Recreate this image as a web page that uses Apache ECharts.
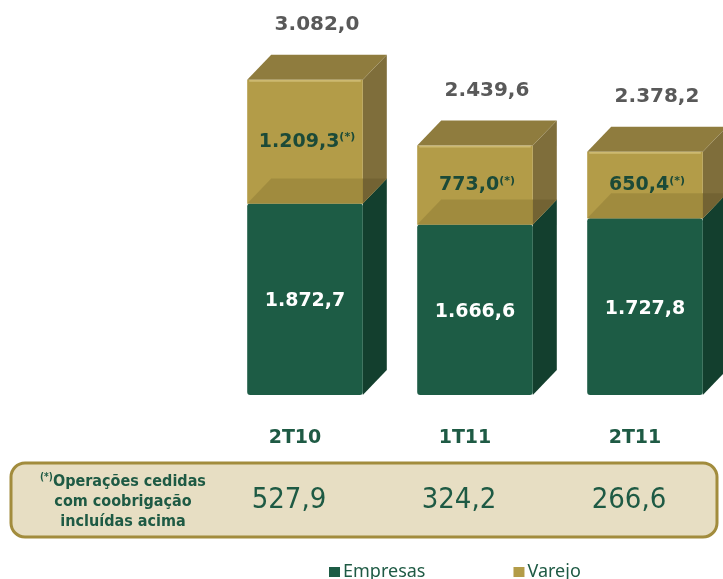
<!DOCTYPE html>
<html>
<head>
    <meta charset="UTF-8">
    <title>Carteira</title>
    <script src="https://cdn.jsdelivr.net/npm/echarts/dist/echarts.min.js"></script>
    <style>
        body { margin: 0; background: #fff; }
        #chart { width: 723px; height: 579px; }
    </style>
</head>
<body>
    <div id="chart"></div>
    <script>
        const categorias = ['2T10', '1T11', '2T11'];
        const empresas = [1872.7, 1666.6, 1727.8];
        const varejo = [1209.3, 773.0, 650.4];
        const totais = [3082.0, 2439.6, 2378.2];
        const coobrigacao = [527.9, 324.2, 266.6];

        const verde = '#1d5c45', verdeLado = '#133f2e';
        const oliva = '#b39c48', olivaLado = '#7f6e3b', olivaTopo = '#8f7c3e';
        const textoVerde = '#1e5a44';
        const DX = 24, DY = 25;

        function fmt(v) {
            const parts = v.toFixed(1).split('.');
            return parts[0].replace(/\B(?=(\d{3})+(?!\d))/g, '.') + ',' + parts[1];
        }

        // caixa 3D: frente, lado e topo
        function caixa(params, api, cores) {
            const idx = api.value(0);
            const pb = api.coord([idx, api.value(1)]);
            const pt = api.coord([idx, api.value(2)]);
            const w = api.size([1, 0])[0] * 0.68;
            const l = pb[0] - w / 2, r = l + w;
            const yb = pb[1], yt = pt[1];
            return {
                l, r, yb, yt, w,
                shapes: [
                    { type: 'polygon', shape: { points: [[r, yt], [r + DX, yt - DY], [r + DX, yb - DY], [r, yb]] }, style: { fill: cores.lado } },
                    { type: 'rect', shape: { x: l, y: yt, width: w, height: yb - yt, r: cores.r || 0 }, style: { fill: cores.frente } },
                    { type: 'polygon', shape: { points: [[l, yt], [l + DX, yt - DY], [r + DX, yt - DY], [r, yt]] }, style: { fill: cores.topo } }
                ]
            };
        }

        const chart = echarts.init(document.getElementById('chart'));
        chart.setOption({
            animation: false,
            grid: { left: 220, width: 510, top: 37, bottom: 184, outerBoundsMode: 'none' },
            xAxis: {
                type: 'category',
                data: categorias,
                axisLine: { show: false },
                axisTick: { show: false },
                axisLabel: {
                    margin: 34,
                    fontSize: 19,
                    fontWeight: 'bold',
                    fontFamily: 'DejaVu Sans',
                    color: textoVerde,
                    padding: [0, 20, 0, 0]
                }
            },
            yAxis: { type: 'value', min: 0, max: 3500, show: false },
            legend: {
                data: ['Empresas', 'Varejo'],
                left: 329,
                top: 563,
                padding: 0,
                itemWidth: 11,
                itemHeight: 10,
                itemGap: 88,
                icon: 'rect',
                textStyle: { fontSize: 18, color: textoVerde, fontFamily: 'Noto Sans', padding: [0, 0, 0, -2] }
            },
            graphic: [
                {
                    type: 'rect', z: 0,
                    shape: { x: 11, y: 463, width: 706, height: 74, r: 14 },
                    style: { fill: '#e7dec3', stroke: '#a28c3d', lineWidth: 3 }
                },
                {
                    type: 'text', z: 1, left: 40, top: 472,
                    style: {
                        text: '{s|(*)}Operações cedidas\ncom coobrigação\nincluídas acima',
                        textAlign: 'center',
                        fill: textoVerde,
                        font: 'bold 16px "DejaVu Sans Condensed"',
                        lineHeight: 20,
                        rich: {
                            s: { fontSize: 10, fontWeight: 'bold', verticalAlign: 'top', fill: textoVerde, fontFamily: 'DejaVu Sans Condensed', lineHeight: 14 }
                        }
                    }
                }
            ],
            series: [
                {
                    name: 'Empresas',
                    type: 'custom',
                    itemStyle: { color: verde },
                    encode: { x: 0, y: [1, 2] },
                    data: categorias.map((c, i) => [i, 0, empresas[i]]),
                    renderItem: function (params, api) {
                        const b = caixa(params, api, { frente: verde, lado: verdeLado, topo: '#a08b3a', r: 3 });
                        const idx = api.value(0);
                        b.shapes.push({
                            type: 'text',
                            style: {
                                text: fmt(empresas[idx]),
                                x: (b.l + b.r) / 2, y: (b.yt + b.yb) / 2 + 2,
                                textAlign: 'center', textVerticalAlign: 'middle',
                                font: 'bold 19px "DejaVu Sans"', fill: '#ffffff'
                            }
                        });
                        return { type: 'group', children: b.shapes };
                    }
                },
                {
                    name: 'Varejo',
                    type: 'custom',
                    itemStyle: { color: oliva },
                    encode: { x: 0, y: [1, 2] },
                    data: categorias.map((c, i) => [i, empresas[i], empresas[i] + varejo[i]]),
                    renderItem: function (params, api) {
                        const b = caixa(params, api, { frente: oliva, lado: olivaLado, topo: olivaTopo });
                        const idx = api.value(0);
                        // topo da caixa verde visto através do varejo
                        b.shapes.push({
                            type: 'polygon',
                            shape: { points: [[b.l, b.yb], [b.l + DX, b.yb - DY], [b.r + DX, b.yb - DY], [b.r, b.yb]] },
                            style: { fill: 'rgba(40,30,0,0.13)' }
                        });
                        b.shapes.push({
                            type: 'rect',
                            shape: { x: b.l + 2, y: b.yt, width: b.w - 4, height: 2 },
                            style: { fill: 'rgba(255,240,190,0.35)' }
                        });
                        b.shapes.push({
                            type: 'text',
                            style: {
                                text: '{v|' + fmt(varejo[idx]) + '}{s|(*)}',
                                x: (b.l + b.r) / 2 + 2, y: (b.yt + b.yb) / 2,
                                textAlign: 'center', textVerticalAlign: 'middle',
                                rich: {
                                    v: { fontSize: 19, fontWeight: 'bold', fontFamily: 'DejaVu Sans', fill: '#1b4a38' },
                                    s: { fontSize: 11, fontWeight: 'bold', fontFamily: 'DejaVu Sans', fill: '#1b4a38', verticalAlign: 'top', lineHeight: 14 }
                                }
                            }
                        });
                        b.shapes.push({
                            type: 'text',
                            style: {
                                text: fmt(totais[idx]),
                                x: (b.l + b.r) / 2 + DX / 2, y: b.yt - DY - 30,
                                textAlign: 'center', textVerticalAlign: 'middle',
                                font: 'bold 20px "DejaVu Sans"', fill: '#595959'
                            }
                        });
                        return { type: 'group', children: b.shapes };
                    }
                },
                {
                    name: 'coobrigacao',
                    type: 'custom',
                    data: categorias.map((c, i) => [i, coobrigacao[i]]),
                    encode: { x: 0, y: 1 },
                    renderItem: function (params, api) {
                        const idx = api.value(0);
                        const p = api.coord([idx, 0]);
                        return {
                            type: 'text',
                            style: {
                                text: fmt(api.value(1)),
                                x: p[0] - 16, y: 500,
                                textAlign: 'center', textVerticalAlign: 'middle',
                                font: '29px "DejaVu Sans Condensed"', fill: textoVerde
                            }
                        };
                    }
                }
            ]
        });
    </script>
</body>
</html>
